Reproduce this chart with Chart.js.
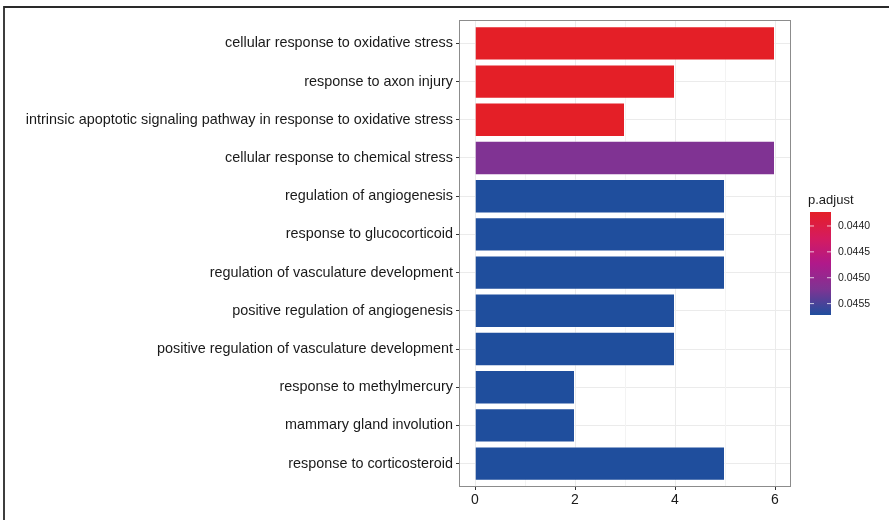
<!DOCTYPE html>
<html>
<head>
<meta charset="utf-8">
<script src="https://cdn.jsdelivr.net/npm/chart.js@4/dist/chart.umd.min.js"></script>
<style>
  html, body { margin: 0; padding: 0; background: #ffffff; }
  #wrap { width: 889px; height: 520px; position: relative; }
</style>
</head>
<body>
<div id="wrap"><canvas id="c" width="889" height="520"></canvas></div>
<script>
// GO terms, top to bottom
const terms = [
  'cellular response to oxidative stress',
  'response to axon injury',
  'intrinsic apoptotic signaling pathway in response to oxidative stress',
  'cellular response to chemical stress',
  'regulation of angiogenesis',
  'response to glucocorticoid',
  'regulation of vasculature development',
  'positive regulation of angiogenesis',
  'positive regulation of vasculature development',
  'response to methylmercury',
  'mammary gland involution',
  'response to corticosteroid'
];
// gene counts per term
const counts = [6, 4, 3, 6, 5, 5, 5, 4, 4, 2, 2, 5];
// adjusted p-values per term
const pAdjust = [0.04373, 0.04373, 0.04373, 0.04520, 0.04572, 0.04572,
                 0.04572, 0.04572, 0.04572, 0.04572, 0.04572, 0.04572];
// x-axis tick labels and colour-bar tick labels
const countTicks = [0, 2, 4, 6];
const legendTicks = [0.0440, 0.0445, 0.0450, 0.0455];

// colour scale: low p-value red, high p-value blue
const gradStops = [
  [0.00, [228, 31, 39]],
  [0.25, [213, 27, 94]],
  [0.50, [176, 25, 138]],
  [0.75, [126, 52, 147]],
  [1.00, [31, 78, 157]]
];
const pMin = Math.min(...pAdjust);
const pMax = Math.max(...pAdjust);
function colorAt(t) {
  t = Math.max(0, Math.min(1, t));
  for (let i = 1; i < gradStops.length; i++) {
    const [t1, c1] = gradStops[i];
    const [t0, c0] = gradStops[i - 1];
    if (t <= t1) {
      const f = (t - t0) / (t1 - t0);
      const c = c0.map((v, k) => Math.round(v + (c1[k] - v) * f));
      return `rgb(${c[0]},${c[1]},${c[2]})`;
    }
  }
  const c = gradStops[gradStops.length - 1][1];
  return `rgb(${c[0]},${c[1]},${c[2]})`;
}
const pColor = p => colorAt((p - pMin) / (pMax - pMin));

const FONT = "'Liberation Sans', Arial, Helvetica, sans-serif";
const TEXT = '#1a1a1a';

const points = counts.map((v, i) => ({ x: v, y: i }));

// page background, outer frame, panel border and colour-bar legend
const decor = {
  id: 'decor',
  beforeDraw(chart) {
    const ctx = chart.ctx;
    ctx.save();
    ctx.fillStyle = '#ffffff';
    ctx.fillRect(0, 0, chart.width, chart.height);
    ctx.restore();
  },
  afterDraw(chart) {
    const ctx = chart.ctx;
    const a = chart.chartArea;
    ctx.save();
    // panel border
    ctx.strokeStyle = '#8c8c8c';
    ctx.lineWidth = 1;
    ctx.strokeRect(Math.round(a.left) - 0.5, Math.round(a.top) - 0.5,
                   Math.round(a.right - a.left) + 1, Math.round(a.bottom - a.top) + 1);
    // outer frame (top and left)
    ctx.strokeStyle = '#2a2a2a';
    ctx.lineWidth = 1.8;
    ctx.beginPath();
    ctx.moveTo(4, chart.height);
    ctx.lineTo(4, 7);
    ctx.lineTo(chart.width, 7);
    ctx.stroke();

    // colour bar legend
    const bx = 810, bw = 21, by = 212, bh = 103;
    ctx.fillStyle = TEXT;
    ctx.font = `13px ${FONT}`;
    ctx.textAlign = 'left';
    ctx.textBaseline = 'alphabetic';
    ctx.fillText('p.adjust', 808, 204);
    const g = ctx.createLinearGradient(0, by, 0, by + bh);
    for (let i = 0; i <= 20; i++) g.addColorStop(i / 20, colorAt(i / 20));
    ctx.fillStyle = g;
    ctx.fillRect(bx, by, bw, bh);
    ctx.font = `10.5px ${FONT}`;
    ctx.textBaseline = 'middle';
    legendTicks.forEach(v => {
      const y = by + (v - pMin) / (pMax - pMin) * bh;
      ctx.strokeStyle = 'rgba(255,255,255,0.75)';
      ctx.lineWidth = 1;
      ctx.beginPath();
      ctx.moveTo(bx, y); ctx.lineTo(bx + 4, y);
      ctx.moveTo(bx + bw - 4, y); ctx.lineTo(bx + bw, y);
      ctx.stroke();
      ctx.fillStyle = TEXT;
      ctx.fillText(v.toFixed(4), 838, y + 0.5);
    });
    ctx.restore();
  }
};

new Chart(document.getElementById('c'), {
  type: 'bar',
  data: {
    datasets: [{
      data: points,
      backgroundColor: pAdjust.map(pColor),
      borderColor: 'rgba(255,255,255,0.35)',
      borderWidth: 1,
      barPercentage: 0.9,
      categoryPercentage: 1.0
    }]
  },
  options: {
    indexAxis: 'y',
    responsive: false,
    animation: false,
    events: [],
    layout: { padding: { left: 0, top: 21, right: 99, bottom: 4 } },
    plugins: { legend: { display: false }, tooltip: { enabled: false } },
    scales: {
      y: {
        type: 'linear',
        reverse: true,
        offset: false,
        min: -0.586,
        max: terms.length - 1 + 0.586,
        afterBuildTicks(scale) {
          scale.ticks = terms.map((_, i) => ({ value: i }));
        },
        afterFit(scale) { scale.width = 460; },
        border: { display: false },
        grid: {
          offset: false,
          color: '#ebebeb',
          lineWidth: 1,
          drawTicks: true,
          tickLength: 4,
          tickColor: '#333333',
          tickWidth: 1
        },
        ticks: {
          autoSkip: false,
          padding: 3,
          color: TEXT,
          font: { family: FONT, size: 14.4 },
          callback: v => terms[v]
        }
      },
      x: {
        type: 'linear',
        min: -0.3,
        max: 6.3,
        afterBuildTicks(scale) {
          const t = [];
          for (let v = 0; v <= 6; v++) t.push({ value: v });
          scale.ticks = t;
        },
        afterFit(scale) { scale.height = 30; },
        border: { display: false },
        grid: {
          color: c => (c.tick && c.tick.value % 2 === 0) ? '#ebebeb' : '#f3f3f3',
          lineWidth: 1,
          drawTicks: true,
          tickLength: 4,
          tickColor: c => (c.tick && c.tick.value % 2 === 0) ? '#333333' : 'rgba(0,0,0,0)',
          tickWidth: 1
        },
        ticks: {
          autoSkip: false,
          maxRotation: 0,
          padding: 2,
          color: TEXT,
          font: { family: FONT, size: 14 },
          callback: v => countTicks.includes(v) ? String(v) : ''
        }
      }
    }
  },
  plugins: [decor]
});
</script>
</body>
</html>
